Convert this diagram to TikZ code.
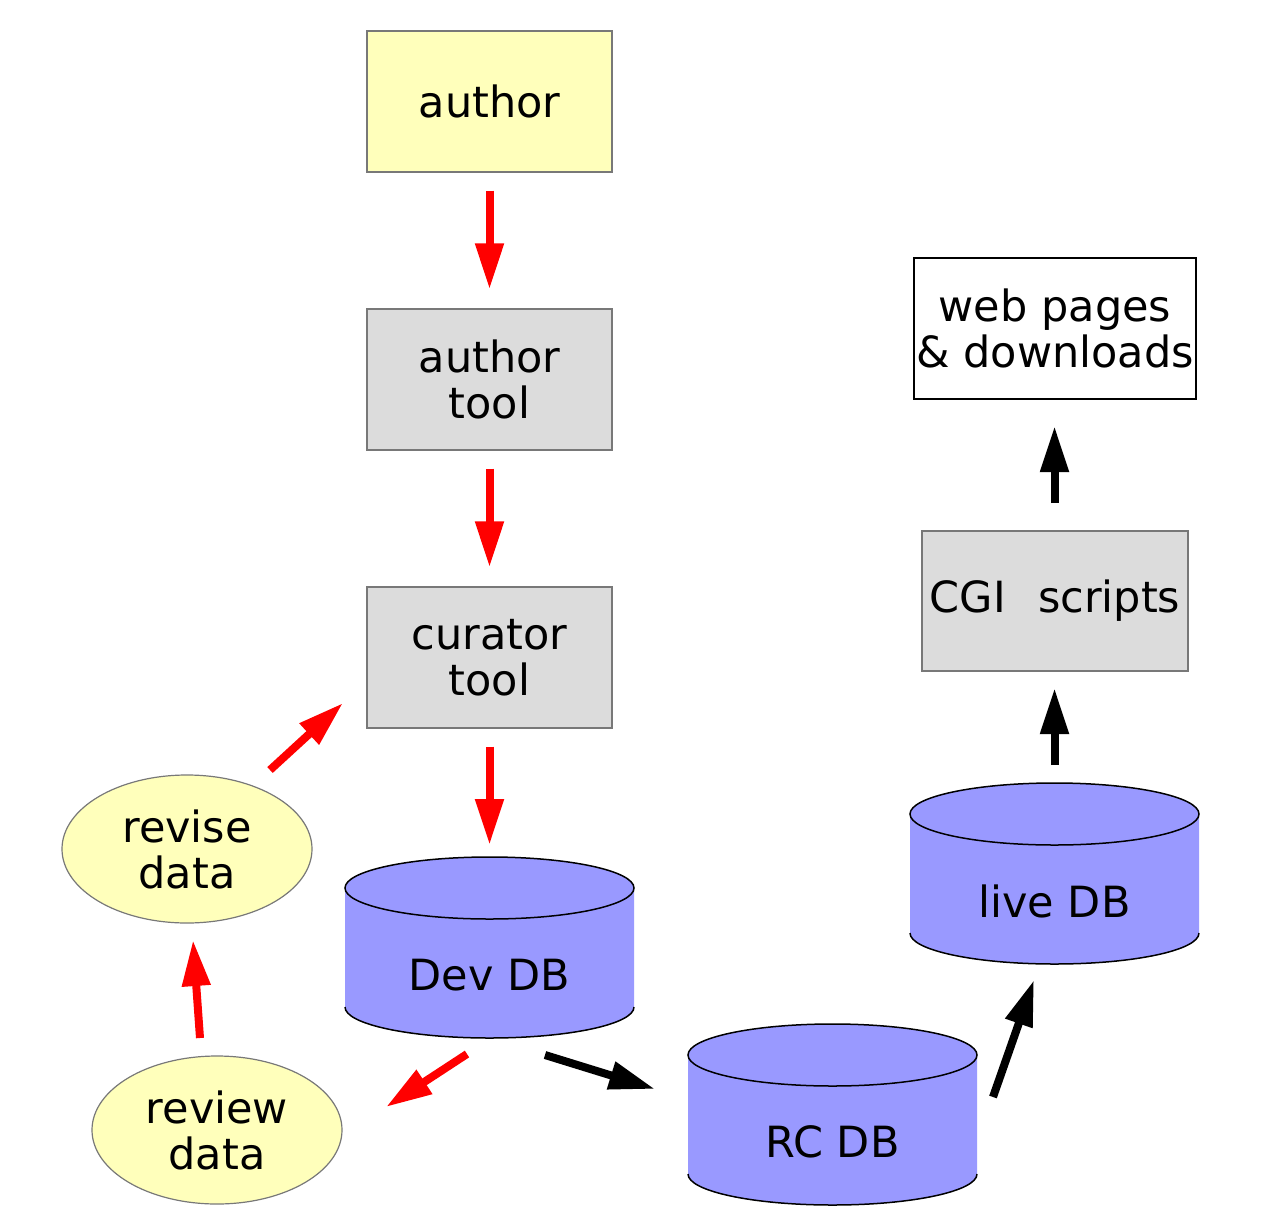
\documentclass[tikz,border=0pt]{standalone}
\usepackage{fontspec}
\setmainfont{DejaVu Sans}
\usetikzlibrary{arrows.meta,shapes.geometric}
\definecolor{noteyellow}{RGB}{255,255,187}
\definecolor{toolgray}{RGB}{220,220,220}
\definecolor{edgegray}{RGB}{120,120,120}
\definecolor{dbblue}{RGB}{153,153,255}

% database drum: name, centre x, top-ellipse centre y, label
\newcommand\dbdrum[4]{%
  \fill[dbblue] (#2-144.5,#3) -- (#2-144.5,#3+119)
     arc[start angle=180,end angle=0,x radius=144.5,y radius=31]
     -- (#2+144.5,#3) -- cycle;
  \draw[line width=1.5pt] (#2-144.5,#3+119)
     arc[start angle=180,end angle=0,x radius=144.5,y radius=31];
  \draw[fill=dbblue,line width=1.5pt] (#2,#3) ellipse[x radius=144.5,y radius=31];
  \node[lbl] (#1) at (#2,#3+87) {#4};
}

\begin{document}
\begin{tikzpicture}[x=1pt,y=-1pt,
  lbl/.style={font=\fontsize{43}{46}\selectfont,align=center,inner sep=0pt},
  box/.style={lbl,draw=edgegray,line width=1.2pt,minimum width=245pt,minimum height=141pt},
  toolbox/.style={box,fill=toolgray},
  oval/.style={lbl,ellipse,draw=edgegray,line width=1.2pt,fill=noteyellow,
               minimum width=250pt,minimum height=148pt},
  redarrow/.style={draw=red,line width=8pt,-{Triangle[length=46pt,width=27pt]}},
  blackarrow/.style={draw=black,line width=8pt,-{Triangle[length=46pt,width=27pt]}}]

\useasboundingbox (0,0) rectangle (1263,1215);

% authoring chain
\node[box,fill=noteyellow] (author) at (489.5,101.5) {author};
\node[toolbox] (atool) at (489.5,379.5) {author\\tool};
\node[toolbox] (ctool) at (489.5,657.5) {curator\\tool};

% publishing chain
\node[box,draw=black,fill=white,minimum width=282pt] (web) at (1055,328.5) {web pages\\\& downloads};
\node[toolbox,minimum width=266pt,minimum height=140pt] (cgi) at (1055,601) {CGI\hspace{0.75em}scripts};

% review loop
\node[oval] (revise) at (187,849) {revise\\data};
\node[oval] (review) at (217,1130) {review\\data};

% databases
\dbdrum{dev}{489.5}{888}{Dev DB}
\dbdrum{rc}{832.5}{1055}{RC DB}
\dbdrum{live}{1054.5}{814}{live DB}

% arrow end points
\coordinate (devtop) at (489.5,845);
\coordinate (reviseout) at (270,770);
\coordinate (ctoolin) at (343,703);
\coordinate (devout) at (467,1054);
\coordinate (reviewin) at (386,1107);
\coordinate (reviewout) at (200,1038);
\coordinate (revisein) at (193,940);
\coordinate (devrc) at (545,1055);
\coordinate (rcin) at (655,1089);
\coordinate (rcout) at (993,1097);
\coordinate (livein) at (1034,980);
\coordinate (liveout) at (1054.5,765);
\coordinate (cgiin) at (1054.5,688);
\coordinate (cgiout) at (1054.5,503);
\coordinate (webin) at (1054.5,426);

% red flow
\draw[redarrow,shorten <=18pt,shorten >=19pt] (author.south) -- (atool.north);
\draw[redarrow,shorten <=18pt,shorten >=19pt] (atool.south) -- (ctool.north);
\draw[redarrow,shorten <=18pt] (ctool.south) -- (devtop);
\draw[redarrow] (reviseout) -- (ctoolin);
\draw[redarrow] (devout) -- (reviewin);
\draw[redarrow] (reviewout) -- (revisein);

% black flow
\draw[blackarrow] (devrc) -- (rcin);
\draw[blackarrow] (rcout) -- (livein);
\draw[blackarrow] (liveout) -- (cgiin);
\draw[blackarrow] (cgiout) -- (webin);
\end{tikzpicture}
\end{document}
